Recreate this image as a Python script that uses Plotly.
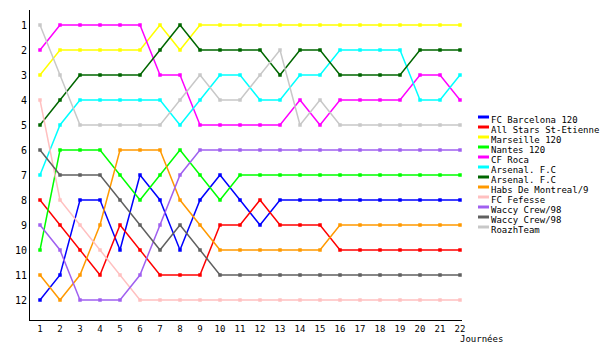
import plotly.graph_objects as go

rounds = list(range(1, 23))

teams = ["FC Barcelona 120", "All Stars St-Etienne", "Marseille 120", "Nantes 120",
         "CF Roca", "Arsenal. F.C", "Arsenal. F.C", "Habs De Montreal/9",
         "FC Fefesse", "Waccy Crew/98", "Waccy Crew/98", "RoazhTeam"]

colors = ["#0000FF", "#FF0000", "#FFFF00", "#00FF00", "#FF00FF", "#00FFFF",
          "#006600", "#FF9900", "#FFC0C0", "#A060F0", "#606060", "#C8C8C8"]

barcelona = [12, 11, 8, 8, 10, 7, 8, 10, 8, 7, 8, 9, 8, 8, 8, 8, 8, 8, 8, 8, 8, 8]
allstars  = [8, 9, 10, 11, 9, 10, 11, 11, 11, 9, 9, 8, 9, 9, 9, 10, 10, 10, 10, 10, 10, 10]
marseille = [3, 2, 2, 2, 2, 2, 1, 2, 1, 1, 1, 1, 1, 1, 1, 1, 1, 1, 1, 1, 1, 1]
nantes    = [10, 6, 6, 6, 7, 8, 7, 6, 7, 8, 7, 7, 7, 7, 7, 7, 7, 7, 7, 7, 7, 7]
roca      = [2, 1, 1, 1, 1, 1, 3, 3, 5, 5, 5, 5, 5, 4, 5, 4, 4, 4, 4, 3, 3, 4]
arsenal1  = [7, 5, 4, 4, 4, 4, 4, 5, 4, 3, 3, 4, 4, 3, 3, 2, 2, 2, 2, 4, 4, 3]
arsenal2  = [5, 4, 3, 3, 3, 3, 2, 1, 2, 2, 2, 2, 3, 2, 2, 3, 3, 3, 3, 2, 2, 2]
habs      = [11, 12, 11, 9, 6, 6, 6, 8, 9, 10, 10, 10, 10, 10, 10, 9, 9, 9, 9, 9, 9, 9]
fefesse   = [4, 8, 9, 10, 11, 12, 12, 12, 12, 12, 12, 12, 12, 12, 12, 12, 12, 12, 12, 12, 12, 12]
waccy1    = [9, 10, 12, 12, 12, 11, 9, 7, 6, 6, 6, 6, 6, 6, 6, 6, 6, 6, 6, 6, 6, 6]
waccy2    = [6, 7, 7, 7, 8, 9, 10, 9, 10, 11, 11, 11, 11, 11, 11, 11, 11, 11, 11, 11, 11, 11]
roazh     = [1, 3, 5, 5, 5, 5, 5, 4, 3, 4, 4, 3, 2, 5, 4, 5, 5, 5, 5, 5, 5, 5]

series = [barcelona, allstars, marseille, nantes, roca, arsenal1, arsenal2,
          habs, fefesse, waccy1, waccy2, roazh]

ytick_vals = list(range(1, 13))
xtick_vals = rounds
x_title = "Journées"

FONT = "DejaVu Sans Mono"

fig = go.Figure()
for name, col, vals in zip(teams, colors, series):
    fig.add_trace(go.Scatter(
        x=rounds, y=vals, name=name, mode="lines+markers",
        line=dict(color=col, width=1.5),
        marker=dict(color=col, size=3.5, symbol="square"),
        showlegend=False))

# plot area geometry in pixels
L, R, T, B = 30, 138, 10, 30
W, H = 600 - L - R, 350 - T - B

def px_to_paper_x(px):
    return (px - L) / W

def px_to_paper_y(py):
    return (350 - B - py) / H

shapes = []
annotations = []
for i, (name, col) in enumerate(zip(teams, colors)):
    ly = 117 + 10 * i
    shapes.append(dict(type="line", xref="paper", yref="paper",
                       x0=px_to_paper_x(478), x1=px_to_paper_x(489),
                       y0=px_to_paper_y(ly), y1=px_to_paper_y(ly),
                       line=dict(color=col, width=3)))
    annotations.append(dict(xref="paper", yref="paper",
                            x=px_to_paper_x(489), y=px_to_paper_y(ly + 3),
                            xanchor="left", yanchor="middle", showarrow=False,
                            text=name, font=dict(family=FONT, size=9, color="black")))

annotations.append(dict(xref="paper", yref="paper",
                        x=px_to_paper_x(458), y=px_to_paper_y(339),
                        xanchor="left", yanchor="middle", showarrow=False,
                        text=x_title, font=dict(family=FONT, size=9, color="black")))

fig.update_layout(
    width=600, height=350,
    margin=dict(l=L, r=R, t=T, b=B, pad=0),
    plot_bgcolor="white", paper_bgcolor="white",
    font=dict(family=FONT, size=9, color="black"),
    shapes=shapes, annotations=annotations,
    xaxis=dict(range=[0.5, 22.1], tickvals=xtick_vals, showgrid=False, zeroline=False,
               showline=True, linecolor="black", linewidth=1, ticks="",
               tickfont=dict(family=FONT, size=9, color="black")),
    yaxis=dict(range=[12.8, 0.4], tickvals=ytick_vals, showgrid=False, zeroline=False,
               showline=True, linecolor="black", linewidth=1, ticks="",
               tickfont=dict(family=FONT, size=10, color="black")),
)

fig.write_html("out.html")
